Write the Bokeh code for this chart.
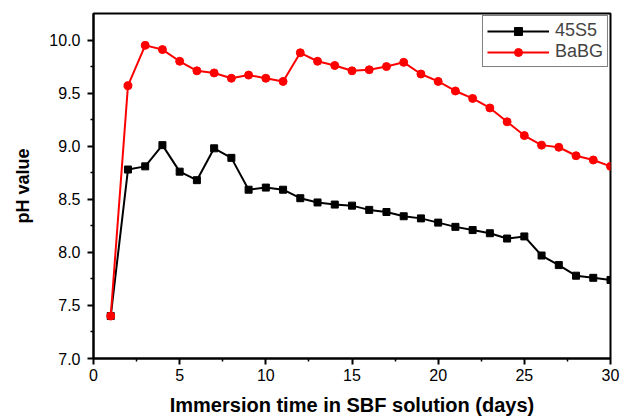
from bokeh.plotting import figure
from bokeh.models import FixedTicker, Range1d
from bokeh.embed import file_html
from bokeh.resources import INLINE

# Immersion time (days) and measured pH of the SBF solution
days = list(range(1, 31))
ph_45s5 = [7.40, 8.78, 8.81, 9.01, 8.76, 8.68, 8.98, 8.89, 8.59, 8.61,
           8.59, 8.51, 8.47, 8.45, 8.44, 8.40, 8.38, 8.34, 8.32, 8.28,
           8.24, 8.21, 8.18, 8.13, 8.15, 7.97, 7.88, 7.78, 7.76, 7.74]
ph_babg = [7.40, 9.57, 9.95, 9.91, 9.80, 9.71, 9.69, 9.64, 9.67, 9.64,
           9.61, 9.88, 9.80, 9.76, 9.71, 9.72, 9.75, 9.79, 9.68, 9.61,
           9.52, 9.45, 9.36, 9.23, 9.10, 9.01, 8.99, 8.91, 8.87, 8.81]

x_ticks = [0, 5, 10, 15, 20, 25, 30]
y_ticks = [7.0, 7.5, 8.0, 8.5, 9.0, 9.5, 10.0]

FONT = "Liberation Sans"

p = figure(width=621, height=418, output_backend="svg", toolbar_location=None,
           x_range=Range1d(0, 30), y_range=Range1d(7.0, 10.25),
           min_border_left=93, min_border_right=11,
           min_border_top=13, min_border_bottom=60)

p.background_fill_color = "white"
p.border_fill_color = "white"
p.outline_line_color = "black"
p.outline_line_width = 2
p.xgrid.visible = False
p.ygrid.visible = False

p.line(days, ph_45s5, line_color="black", line_width=2, legend_label="45S5")
p.scatter(days, ph_45s5, marker="square", size=7, fill_color="black",
          line_color="black", legend_label="45S5")
p.line(days, ph_babg, line_color="red", line_width=2, legend_label="BaBG")
p.scatter(days, ph_babg, marker="circle", size=8, fill_color="red",
          line_color="red", legend_label="BaBG")

for ax in (p.xaxis[0], p.yaxis[0]):
    ax.axis_line_width = 2
    ax.axis_line_color = "black"
    ax.major_tick_line_width = 2
    ax.minor_tick_line_width = 1.5
    ax.major_tick_in = 0
    ax.major_tick_out = 6
    ax.minor_tick_in = 0
    ax.minor_tick_out = 3
    ax.major_label_text_font = FONT
    ax.major_label_text_font_size = "16px"
    ax.major_label_text_color = "black"
    ax.axis_label_text_font = FONT
    ax.axis_label_text_font_style = "bold"
    ax.axis_label_text_color = "black"

p.xaxis.axis_label_text_font_size = "20px"
p.yaxis.axis_label_text_font_size = "18px"

p.xaxis.ticker = FixedTicker(ticks=x_ticks, minor_ticks=[2.5, 7.5, 12.5, 17.5, 22.5, 27.5])
p.yaxis.ticker = FixedTicker(ticks=y_ticks, minor_ticks=[7.25, 7.75, 8.25, 8.75, 9.25, 9.75])
p.yaxis.major_label_overrides = {t: f"{t:.1f}" for t in y_ticks}
p.xaxis.major_label_overrides = {t: str(t) for t in x_ticks}

p.xaxis.axis_label = "Immersion time in SBF solution (days)"
p.yaxis.axis_label = "pH value"
p.xaxis.major_label_standoff = 4
p.yaxis.major_label_standoff = 7
p.xaxis.axis_label_standoff = 10
p.yaxis.axis_label_standoff = 13

lg = p.legend[0]
lg.location = "top_right"
lg.margin = 2
lg.padding = 4
lg.spacing = 0
lg.glyph_width = 62
lg.label_standoff = 6
lg.label_text_font = FONT
lg.label_text_font_size = "18px"
lg.label_height = 20
lg.glyph_height = 20
lg.border_line_color = "black"
lg.border_line_width = 1
lg.background_fill_alpha = 1.0

open("out.html", "w").write(file_html(p, INLINE))
